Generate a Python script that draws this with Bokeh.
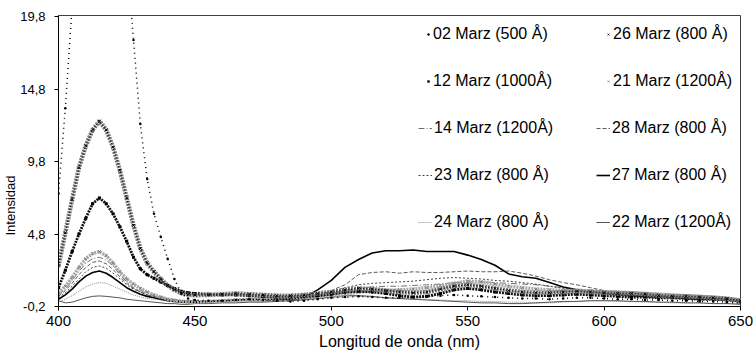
from bokeh.plotting import figure
from bokeh.models import (Legend, LegendItem, FixedTicker, CustomJSTickFormatter,
                          Range1d, Title)
from bokeh.embed import file_html
from bokeh.resources import INLINE

# ---------------- data ----------------
X_NM = [400, 402.5, 405, 407.5, 410, 412.5, 415, 417.5, 420, 422.5, 425, 427.5,
        430, 432.5, 435, 437.5, 440, 442.5, 445, 447.5, 450,
        455, 460, 465, 470, 475, 480, 485, 490, 495, 500,
        505, 510, 515, 520, 525, 530, 535, 540, 545, 550,
        555, 560, 565, 570, 575, 580, 585, 590, 595, 600,
        605, 610, 615, 620, 625, 630, 635, 640, 645, 650]

M02 = [7.6, 13.5, 20.5, 28.0, 35.0, 40.0, 42.0, 41.0, 37.0, 31.0, 24.0, 18.2,
       12.4, 8.6, 6.2, 4.6, 3.1, 1.7, 0.7, 0.35, 0.25,
       0.2, 0.2, 0.25, 0.3, 0.25, 0.2, 0.15, 0.2, 0.3, 0.4,
       0.45, 0.5, 0.45, 0.4, 0.4, 0.45, 0.5, 0.55, 0.6, 0.55,
       0.5, 0.45, 0.4, 0.35, 0.35, 0.3, 0.35, 0.4, 0.4, 0.35,
       0.3, 0.3, 0.25, 0.25, 0.2, 0.2, 0.15, 0.15, 0.1, 0.05]
M26 = [2.6, 4.9, 7.2, 9.4, 10.9, 12.0, 12.6, 12.0, 10.8, 9.2, 7.3, 5.4,
       3.8, 2.8, 2.2, 1.7, 1.25, 0.95, 0.72, 0.62, 0.58,
       0.6, 0.65, 0.7, 0.65, 0.6, 0.55, 0.55, 0.6, 0.7, 0.8,
       0.95, 1.05, 1.0, 0.9, 0.8, 0.75, 0.8, 1.0, 1.2, 1.3,
       1.2, 1.05, 0.9, 0.8, 0.75, 0.75, 0.8, 0.85, 0.8, 0.75,
       0.7, 0.7, 0.65, 0.55, 0.5, 0.5, 0.45, 0.4, 0.35, 0.2]
M12 = [1.1, 2.3, 3.6, 4.8, 5.9, 6.9, 7.3, 6.9, 6.2, 5.3, 4.3, 3.2,
       2.4, 2.0, 1.75, 1.5, 1.25, 1.05, 0.85, 0.75, 0.7,
       0.65, 0.6, 0.6, 0.55, 0.5, 0.45, 0.45, 0.5, 0.55, 0.65,
       0.8, 0.85, 0.8, 0.7, 0.55, 0.45, 0.5, 0.7, 0.95, 1.05,
       0.95, 0.8, 0.7, 0.6, 0.55, 0.55, 0.6, 0.65, 0.6, 0.55,
       0.5, 0.45, 0.45, 0.4, 0.4, 0.35, 0.3, 0.3, 0.25, 0.15]
M21 = [0.75, 1.2, 1.8, 2.5, 3.1, 3.45, 3.6, 3.3, 2.8, 2.2, 1.7, 1.35,
       1.05, 0.8, 0.6, 0.45, 0.3, 0.2, 0.15, 0.1, 0.1,
       0.15, 0.2, 0.25, 0.3, 0.35, 0.4, 0.4, 0.45, 0.5, 0.55,
       0.65, 0.8, 0.9, 0.9, 0.95, 1.0, 1.1, 1.25, 1.4, 1.55,
       1.5, 1.35, 1.2, 1.1, 1.0, 0.95, 0.9, 0.9, 0.85, 0.8,
       0.8, 0.75, 0.7, 0.65, 0.6, 0.55, 0.5, 0.45, 0.35, 0.25]
M14 = [0.6, 1.0, 1.6, 2.2, 2.8, 3.1, 3.2, 3.0, 2.6, 2.0, 1.5, 1.1,
       0.9, 0.7, 0.55, 0.45, 0.35, 0.3, 0.25, 0.2, 0.2,
       0.2, 0.2, 0.25, 0.25, 0.3, 0.3, 0.35, 0.4, 0.5, 0.7,
       0.9, 1.05, 1.15, 1.2, 1.2, 1.25, 1.3, 1.35, 1.45, 1.5,
       1.5, 1.45, 1.4, 1.35, 1.3, 1.2, 1.1, 1.0, 0.95, 0.9,
       0.85, 0.8, 0.75, 0.7, 0.65, 0.6, 0.5, 0.45, 0.4, 0.3]
M28 = [0.5, 0.9, 1.4, 2.0, 2.5, 2.85, 2.95, 2.75, 2.35, 1.85, 1.4, 1.05,
       0.8, 0.6, 0.5, 0.4, 0.3, 0.25, 0.2, 0.2, 0.2,
       0.2, 0.2, 0.2, 0.25, 0.25, 0.25, 0.3, 0.3, 0.5, 0.9,
       1.3, 2.0, 2.15, 2.2, 2.1, 2.2, 2.15, 2.15, 2.2, 2.25,
       2.2, 2.2, 2.25, 2.1, 1.9, 1.65, 1.45, 1.3, 1.1, 0.9,
       0.75, 0.7, 0.6, 0.55, 0.5, 0.45, 0.4, 0.35, 0.3, 0.2]
M23 = [0.4, 0.75, 1.2, 1.7, 2.2, 2.5, 2.6, 2.45, 2.1, 1.7, 1.3, 1.0,
       0.8, 0.6, 0.5, 0.4, 0.3, 0.25, 0.2, 0.15, 0.15,
       0.15, 0.15, 0.2, 0.2, 0.2, 0.25, 0.25, 0.3, 0.5, 0.8,
       1.1, 1.3, 1.4, 1.45, 1.5, 1.55, 1.65, 1.75, 1.8, 1.75,
       1.7, 1.6, 1.55, 1.45, 1.35, 1.2, 1.05, 0.95, 0.85, 0.75,
       0.7, 0.65, 0.6, 0.55, 0.5, 0.45, 0.4, 0.35, 0.3, 0.2]
M27 = [0.3, 0.6, 1.0, 1.5, 1.9, 2.15, 2.25, 2.1, 1.8, 1.45, 1.1, 0.85,
       0.65, 0.5, 0.4, 0.3, 0.2, 0.15, 0.1, 0.1, 0.1,
       0.15, 0.2, 0.25, 0.3, 0.3, 0.3, 0.3, 0.4, 0.95, 1.6,
       2.5, 3.05, 3.5, 3.65, 3.65, 3.7, 3.6, 3.6, 3.6, 3.35,
       3.05, 2.65, 2.05, 1.85, 1.75, 1.45, 1.15, 0.95, 0.8, 0.7,
       0.6, 0.55, 0.5, 0.45, 0.4, 0.35, 0.3, 0.3, 0.25, 0.15]
M24 = [0.1, 0.3, 0.55, 0.85, 1.15, 1.35, 1.45, 1.4, 1.2, 1.0, 0.8, 0.6,
       0.45, 0.35, 0.3, 0.25, 0.2, 0.15, 0.1, 0.1, 0.05,
       0.05, 0.1, 0.1, 0.15, 0.15, 0.2, 0.25, 0.3, 0.35, 0.4,
       0.45, 0.5, 0.45, 0.4, 0.35, 0.3, 0.3, 0.25, 0.2, 0.2,
       0.15, 0.15, 0.1, 0.1, 0.05, 0.05, 0.1, 0.15, 0.2, 0.2,
       0.15, 0.15, 0.1, 0.1, 0.05, 0.05, 0.05, 0.0, 0.0, 0.0]
M22 = [0.2, 0.05, 0.1, 0.25, 0.4, 0.5, 0.53, 0.5, 0.45, 0.4, 0.3, 0.25,
       0.2, 0.15, 0.1, 0.05, 0.0, 0.0, -0.05, -0.05, 0.0,
       0.0, 0.05, 0.05, 0.1, 0.1, 0.15, 0.2, 0.25, 0.35, 0.45,
       0.55, 0.55, 0.5, 0.4, 0.35, 0.3, 0.25, 0.2, 0.15, 0.1,
       0.05, 0.05, 0.0, 0.0, 0.05, 0.1, 0.15, 0.15, 0.2, 0.2,
       0.2, 0.15, 0.15, 0.1, 0.1, 0.05, 0.05, 0.0, 0.0, -0.05]

LABELS = {
    "m02": "02 Marz (500 Å)", "m26": "26 Marz (800 Å)",
    "m12": "12 Marz (1000Å)", "m21": "21 Marz (1200Å)",
    "m14": "14 Marz (1200Å)", "m28": "28 Marz (800 Å)",
    "m23": "23 Marz (800 Å)", "m27": "27 Marz (800 Å)",
    "m24": "24 Marz (800 Å)", "m22": "22 Marz (1200Å)",
}
X_TICKS = [400, 450, 500, 550, 600, 650]
Y_TICKS = [-0.2, 4.8, 9.8, 14.8, 19.8]

# ---------------- figure ----------------
p = figure(width=754, height=355, output_backend="svg", toolbar_location=None,
           x_range=Range1d(400, 650), y_range=Range1d(-0.2, 19.9),
           min_border_left=57, min_border_right=14, min_border_top=15,
           min_border_bottom=49)
p.xgrid.visible = False
p.ygrid.visible = False
p.outline_line_color = "#404040"
p.background_fill_color = "white"
p.border_fill_color = "white"

FONT = "Liberation Sans"
for ax in (p.xaxis[0], p.yaxis[0]):
    ax.axis_line_color = "black"
    ax.major_tick_line_color = "black"
    ax.major_tick_out = 4
    ax.major_tick_in = 0
    ax.minor_tick_out = 0
    ax.minor_tick_in = 0
    ax.major_label_text_font = FONT
    ax.major_label_text_color = "black"

p.xaxis.ticker = FixedTicker(ticks=X_TICKS)
p.xaxis.major_label_text_font_size = "15px"
p.xaxis.major_label_standoff = 5
p.xaxis.axis_label = "Longitud de onda (nm)"
p.xaxis.axis_label_text_font = FONT
p.xaxis.axis_label_text_font_size = "16px"
p.xaxis.axis_label_text_font_style = "normal"
p.xaxis.axis_label_text_color = "black"
p.xaxis.axis_label_standoff = 4

p.yaxis.ticker = FixedTicker(ticks=Y_TICKS)
p.yaxis.formatter = CustomJSTickFormatter(code="return tick.toFixed(1).replace('.', ',');")
p.yaxis.major_label_text_font_size = "13px"
p.yaxis.major_label_standoff = 9

p.add_layout(Title(text="Intensidad", align="left", offset=71,
                   text_font=FONT, text_font_size="13px",
                   text_font_style="normal", text_color="black",
                   standoff=0), "left")

# ---------------- series ----------------
r = {}
r["m14"] = p.line(X_NM, M14, line_color="#707070", line_width=1, line_dash="6 2 1 2")
r["m28"] = p.line(X_NM, M28, line_color="#5a5a5a", line_width=1, line_dash="4 2")
r["m23"] = p.line(X_NM, M23, line_color="#404040", line_width=1, line_dash="2 2")
r["m24"] = p.line(X_NM, M24, line_color="#8a8a8a", line_width=1, line_dash="1 1")
r["m22"] = p.line(X_NM, M22, line_color="#555555", line_width=1)
r["m27"] = p.line(X_NM, M27, line_color="black", line_width=1.6)

# marker series: dense markers emulated by a patterned line + markers
p.line(X_NM, M21, line_color="#a8a8a8", line_width=3.5, line_dash="2 1")
r["m21"] = p.scatter(X_NM, M21, marker="x", size=4, line_color="#808080", line_width=1)

p.line(X_NM, M12, line_color="#111111", line_width=2.8, line_dash="2 1")
r["m12"] = p.scatter(X_NM, M12, marker="square", size=3, fill_color="black",
                     line_color=None)

p.line(X_NM, M26, line_color="#7a7a7a", line_width=4.5, line_dash="2 1")
p.line(X_NM, M26, line_color="#111111", line_width=1.4, line_dash="1 2")
r["m26"] = p.scatter(X_NM, M26, marker="x", size=4, line_color="black", line_width=1)

p.line(X_NM, M02, line_color="black", line_width=1.5, line_dash="1 4")
r["m02"] = p.scatter(X_NM, M02, marker="circle", size=2.5, fill_color="black",
                     line_color=None)

# ---------------- legends (two columns; marker rows and line rows) ----------------
def make_legend(keys, loc, gw, standoff):
    return Legend(items=[LegendItem(label=LABELS[k], renderers=[r[k]]) for k in keys],
                  location=loc, orientation="vertical",
                  label_text_font=FONT, label_text_font_size="16px",
                  label_text_color="black", glyph_width=gw, glyph_height=20,
                  label_height=20, label_standoff=standoff, spacing=27, padding=0,
                  margin=0, border_line_color=None, background_fill_alpha=0)

p.add_layout(make_legend(["m02", "m12"], (367, 215), 6, 2))
p.add_layout(make_legend(["m26", "m21"], (547, 215), 6, 2))
p.add_layout(make_legend(["m14", "m23", "m24"], (360, 74), 14, 2))
p.add_layout(make_legend(["m28", "m27", "m22"], (538, 74), 14, 2))

open("out.html", "w").write(file_html(p, INLINE))
